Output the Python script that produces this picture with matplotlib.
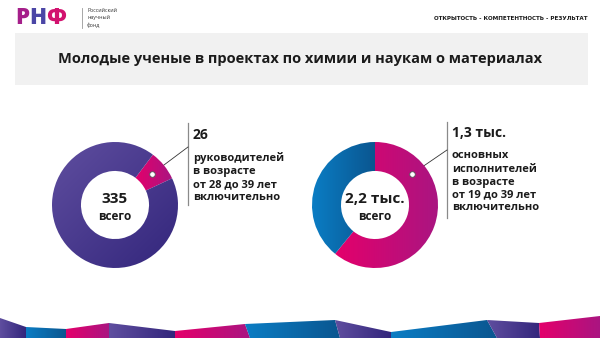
import numpy as np
import matplotlib
matplotlib.use("Agg")
import matplotlib.pyplot as plt
from matplotlib.colors import LinearSegmentedColormap
from matplotlib.patches import Polygon, Rectangle

plt.rcParams['font.family'] = ['Open Sans', 'DejaVu Sans']

# данные
title = "Молодые ученые в проектах по химии и наукам о материалах"
left_parts = [26, 309]        # руководители до 39 лет / остальные
left_young = "26"
left_total = "335"
left_desc = ["руководителей", "в возрасте", "от 28 до 39 лет", "включительно"]
right_parts = [1340, 860]     # основные исполнители до 39 лет / остальные
right_young = "1,3 тыс."
right_total = "2,2 тыс."
right_desc = ["основных", "исполнителей", "в возрасте", "от 19 до 39 лет", "включительно"]

W, H = 600, 338
PURPLE = ('#5f4e9f', '#33267c')
BLUE = ('#0a7dc4', '#0b5690')
PINK = ('#e4006b', '#aa1581')
TXT = '#1b1b1b'

fig = plt.figure(figsize=(6, 3.38), dpi=100)
bg = fig.add_axes([0, 0, 1, 1])
bg.axis('off')


def grad_fill(ax, patch, colors, angle=0.0, zorder=1):
    # заливка патча линейным градиентом через imshow + clip_path
    ax.add_patch(patch)
    patch.set_facecolor('none')
    patch.set_edgecolor('none')
    ext = patch.get_path().get_extents()
    x0, y0, x1, y1 = ext.x0, ext.y0, ext.x1, ext.y1
    gx, gy = np.meshgrid(np.linspace(0, 1, 128), np.linspace(0, 1, 128))
    a = np.deg2rad(angle)
    z = gx * np.cos(a) + gy * np.sin(a)
    cmap = LinearSegmentedColormap.from_list('g', list(colors))
    im = ax.imshow(z, extent=(x0, x1, y0, y1), origin='lower', cmap=cmap,
                   aspect='auto', interpolation='bilinear', zorder=zorder)
    im.set_clip_path(patch)
    return im


# шапка
bg.text(15, 18, "Р", color='#a51f8a', fontsize=16, fontweight='heavy', ha='left', va='center')
bg.text(29, 18, "Н", color='#4b46a6', fontsize=16, fontweight='heavy', ha='left', va='center')
bg.text(46, 18, "Ф", color='#d2126f', fontsize=16, fontweight='heavy', ha='left', va='center')
bg.plot([82, 82], [8, 28], color='#999999', lw=0.6)
for i, s in enumerate(["Российский", "научный", "фонд"]):
    bg.text(87, 11 + i * 7, s, fontsize=3.8, color='#333333', ha='left', va='center')
bg.text(587, 18, "ОТКРЫТОСТЬ - КОМПЕТЕНТНОСТЬ - РЕЗУЛЬТАТ", fontsize=4.5,
        fontweight='bold', fontstretch='condensed', color=TXT, ha='right', va='center',
        family=['Liberation Sans Narrow', 'DejaVu Sans'])

# заголовок
bg.add_patch(Rectangle((15, 33), 573, 52, facecolor='#f1f1f1', edgecolor='none'))
bg.text(300, 59, title, fontsize=10.5, fontweight='bold', color=TXT, ha='center', va='center')

# нижняя лента
xt = [0, 26, 66, 109, 175, 245, 335, 391, 487, 539, 600]
yt = [318, 327, 329, 323, 331, 324, 320, 332, 320, 323, 316]
xb = [0, 26, 66, 109, 175, 250, 340, 391, 497, 540, 600]
band_colors = [PURPLE, BLUE, PINK, PURPLE, PINK, BLUE, PURPLE, BLUE, PURPLE, PINK]
for i, c in enumerate(band_colors):
    poly = Polygon([(xt[i], yt[i]), (xt[i + 1], yt[i + 1]), (xb[i + 1], H), (xb[i], H)],
                   closed=True)
    grad_fill(bg, poly, c)

bg.set_xlim(0, W)
bg.set_ylim(H, 0)

R = 63
DOT_ANG = 40
DOT_R = 0.77


def donut(cx, cy, parts, cols, angles, start):
    ax = fig.add_axes([(cx - R) / W, (H - cy - R) / H, 2 * R / W, 2 * R / H])
    wedges, _ = ax.pie(parts, startangle=start, counterclock=False, radius=1,
                       wedgeprops=dict(width=0.46, linewidth=0))
    for w, c, a in zip(wedges, cols, angles):
        w.remove()
        grad_fill(ax, w, c, a)
    a = np.deg2rad(DOT_ANG)
    ax.plot(DOT_R * np.cos(a), DOT_R * np.sin(a), 'o', ms=4, mfc='white',
            mec='#555555', mew=0.6, zorder=5)
    ax.set_xlim(-1, 1)
    ax.set_ylim(-1, 1)
    ax.axis('off')
    return cx + R * DOT_R * np.cos(a), cy - R * DOT_R * np.sin(a)


# левый круг
lc = (115, 205)
dx, dy = donut(lc[0], lc[1], left_parts, [PINK, PURPLE], [0, -45], 53)
bg.plot([188, 188], [123, 205], color='#8a8a8a', lw=0.9)
bg.plot([dx, 188], [dy, 147], color='#333333', lw=0.6)
bg.text(193, 135, left_young, fontsize=10, fontweight='bold', color=TXT, ha='left', va='center')
for i, s in enumerate(left_desc):
    bg.text(193, 158 + i * 13.2, s, fontsize=8, fontweight='bold', color=TXT,
            ha='left', va='center')
bg.text(lc[0], lc[1] - 6, left_total, fontsize=11, fontweight='bold', color=TXT, ha='center', va='center')
bg.text(lc[0], lc[1] + 11, "всего", fontsize=8.5, fontweight='bold', color=TXT, ha='center', va='center')

# правый круг
rc = (375, 205)
dx, dy = donut(rc[0], rc[1], right_parts, [PINK, BLUE], [0, 0], 90)
bg.plot([447, 447], [122, 218], color='#8a8a8a', lw=0.9)
bg.plot([dx, 447], [dy, 150], color='#333333', lw=0.6)
bg.text(452, 133, right_young, fontsize=10, fontweight='bold', color=TXT, ha='left', va='center')
for i, s in enumerate(right_desc):
    bg.text(452, 156 + i * 13, s, fontsize=8, fontweight='bold', color=TXT,
            ha='left', va='center')
bg.text(rc[0], rc[1] - 6, right_total, fontsize=11, fontweight='bold', color=TXT, ha='center', va='center')
bg.text(rc[0], rc[1] + 11, "всего", fontsize=8.5, fontweight='bold', color=TXT, ha='center', va='center')

fig.savefig("out.png", dpi=100, facecolor='white')
